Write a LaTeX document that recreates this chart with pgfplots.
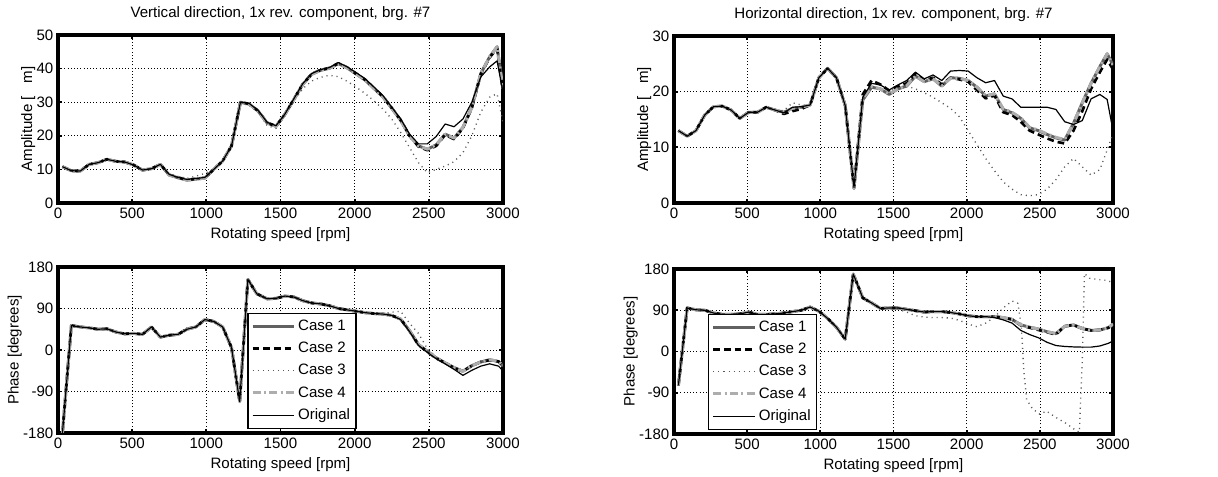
\documentclass[border=0pt]{standalone}
\usepackage{fontspec}
\setmainfont{Liberation Sans}
\usepackage{pgfplots}
\pgfplotsset{compat=1.18}
\usepackage{pgfplotstable}

\definecolor{cA}{gray}{0.38}
\definecolor{cC}{gray}{0.35}
\definecolor{cD}{gray}{0.68}

\pgfplotstableread{
x c1 c2 c3 c4 o
30 10.8 10.8 10.8 10.8 10.8
90 9.6 9.6 9.6 9.6 9.6
150 9.5 9.5 9.5 9.5 9.5
210 11.5 11.5 11.5 11.5 11.5
270 12.0 12.0 12.0 12.0 12.0
330 13.0 13.0 13.0 13.0 13.0
390 12.4 12.4 12.4 12.4 12.4
450 12.2 12.2 12.2 12.2 12.2
510 11.3 11.3 11.3 11.3 11.3
570 9.8 9.8 9.8 9.8 9.8
630 10.2 10.2 10.2 10.2 10.2
690 11.5 11.5 11.5 11.5 11.5
750 8.3 8.4 8.6 8.3 8.5
810 7.5 7.6 7.9 7.5 7.6
870 6.8 6.9 7.3 6.8 7.0
930 7.1 7.2 8.0 7.1 7.3
990 7.4 7.5 8.8 7.4 7.6
1050 10.0 10.0 10.2 10.0 10.0
1110 12.5 12.5 12.4 12.5 12.5
1170 17.0 17.0 16.8 17.0 17.0
1230 30.0 30.0 29.8 30.0 30.0
1290 29.4 29.5 29.0 29.4 29.6
1350 27.3 27.4 27.0 27.3 27.5
1410 23.8 23.9 23.0 23.8 24.0
1470 22.8 22.9 22.2 22.8 23.0
1530 26.4 26.4 26.0 26.4 26.5
1590 30.8 30.9 30.3 30.8 31.0
1650 35.3 35.4 34.0 35.3 35.5
1710 38.3 38.4 36.3 38.3 38.5
1770 39.5 39.6 37.4 39.5 39.7
1830 40.1 40.2 38.0 40.1 40.3
1890 41.5 41.6 37.6 41.5 41.8
1950 40.2 40.3 36.2 40.2 40.5
2010 38.4 38.5 34.5 38.4 38.8
2070 36.6 36.7 32.6 36.6 37.0
2130 34.1 34.2 30.4 34.1 34.5
2190 31.6 31.7 28.0 31.6 32.0
2250 28.2 28.3 25.0 28.2 28.5
2310 24.6 24.7 21.0 24.6 25.0
2370 20.0 20.0 16.5 20.0 20.5
2430 17.0 16.8 12.0 17.0 17.6
2490 16.0 15.7 9.0 16.0 17.6
2550 17.3 17.0 10.0 17.3 19.8
2610 20.5 20.3 11.0 20.5 23.5
2670 19.3 19.0 12.3 19.3 22.7
2730 22.5 22.3 15.0 22.5 25.0
2790 28.5 28.3 20.0 28.5 30.0
2850 38.5 38.3 27.0 38.5 37.5
2910 43.5 43.3 31.5 43.5 40.5
2960 46.5 46.0 32.5 46.5 42.3
3000 34.0 33.0 24.0 34.0 33.0
}\tabTL

\pgfplotstableread{
x c1 c2 c3 c4 o
30 13.0 13.0 13.0 13.0 13.0
90 12.0 12.0 12.0 12.0 12.0
150 13.0 13.0 13.0 13.0 13.0
210 15.8 15.8 15.8 15.8 15.8
270 17.3 17.3 17.3 17.3 17.3
330 17.4 17.4 17.4 17.4 17.4
390 16.7 16.7 16.7 16.7 16.7
450 15.2 15.2 15.2 15.2 15.2
510 16.3 16.3 16.3 16.3 16.3
570 16.3 16.3 16.3 16.3 16.3
630 17.2 17.2 17.2 17.2 17.2
690 16.7 16.7 16.7 16.7 16.7
750 16.3 16.0 16.6 16.3 16.2
810 17.0 16.5 18.0 17.0 17.2
870 17.2 16.9 17.6 17.2 17.3
930 17.6 17.6 17.6 17.6 17.6
990 22.5 22.5 22.5 22.5 22.5
1050 24.2 24.2 24.2 24.2 24.2
1110 22.5 22.5 22.5 22.5 22.5
1170 17.5 17.5 17.5 17.5 17.5
1230 2.6 2.8 2.8 2.6 2.8
1290 18.5 19.5 19.0 18.7 19.0
1350 20.8 22.0 21.0 20.9 21.5
1410 20.5 21.3 20.6 20.5 21.2
1470 19.5 20.2 20.0 19.6 20.3
1530 20.5 21.0 20.8 20.5 21.2
1590 21.0 21.5 21.0 21.1 22.0
1650 22.8 23.2 20.5 22.8 23.5
1710 21.8 22.0 19.8 21.8 22.3
1770 22.3 22.5 19.0 22.3 23.0
1830 21.0 21.3 18.0 21.0 22.0
1890 22.5 22.5 17.0 22.4 23.7
1950 22.4 22.2 15.5 22.4 23.8
2010 22.0 21.8 13.0 22.0 23.7
2070 20.8 20.3 10.5 20.8 22.5
2130 19.2 18.8 8.0 19.3 21.6
2190 19.6 19.3 5.8 19.6 22.0
2250 16.8 16.3 3.8 16.9 19.2
2310 16.2 15.8 2.5 16.3 18.7
2370 15.2 14.6 1.5 15.3 17.2
2430 13.5 13.0 1.3 13.6 17.2
2490 13.0 12.3 1.5 13.1 17.2
2550 12.3 11.6 2.5 12.4 17.2
2610 11.7 11.0 4.2 11.8 16.8
2670 11.3 10.7 6.5 11.4 14.6
2730 14.3 13.0 8.0 14.3 14.1
2790 18.0 16.5 6.5 18.0 14.8
2850 21.5 20.5 5.0 21.5 18.7
2910 24.5 23.5 6.0 24.5 19.5
2960 26.8 25.8 9.5 26.8 18.6
3000 24.8 24.0 12.5 24.8 13.0
}\tabTR

\pgfplotstableread{
x c1 c2 c3 c4 o
30 -180 -180 -180 -180 -180
90 53 53 53 53 53
150 50 50 50 50 50
210 48 48 48 48 48
270 45 45 45 45 45
330 46 46 46 46 46
390 39 39 39 39 39
450 35 35 35 35 35
510 36 36 36 36 36
570 34 34 34 34 34
630 50 50 50 50 50
690 28 28 28 28 28
750 32 32 32 32 32
810 34 34 35 34 34
870 45 46 48 45 45
930 50 50 52 50 50
990 66 66 63 66 66
1050 62 62 61 62 62
1110 50 50 49 50 50
1170 5 5 5 5 5
1225 -112 -112 -112 -112 -112
1280 153 153 153 153 153
1340 122 122 122 122 122
1410 111 111 111 111 111
1470 112 112 112 112 112
1530 117 117 117 117 117
1590 115 115 115 115 115
1650 107 107 107 107 107
1710 102 102 102 102 102
1770 100 100 100 100 100
1830 96 96 96 96 96
1890 90 90 90 90 90
1950 87 87 87 87 87
2010 84 84 84 84 84
2070 81 81 81 81 81
2130 79 79 79 79 79
2190 78 78 79 78 78
2250 75 75 82 75 75
2310 67 67 84 67 66
2370 42 41 58 42 40
2430 12 11 36 12 10
2490 -3 -4 3 -3 -5
2550 -17 -18 -15 -17 -19
2610 -28 -28 -27 -28 -30
2670 -38 -39 -38 -38 -42
2730 -46 -46 -46 -46 -55
2790 -34 -34 -34 -34 -44
2850 -26 -26 -26 -26 -35
2910 -21 -22 -21 -21 -30
2970 -25 -25 -25 -25 -35
3000 -35 -35 -35 -35 -45
}\tabBL

\pgfplotstableread{
x c1 c2 c4 o
30 -74 -74 -74 -74
90 95 95 95 95
150 91 91 91 91
210 90 90 90 90
270 84 84 84 84
330 81 81 81 81
390 81 81 81 81
450 82 82 82 82
510 86 86 86 86
570 81 81 81 81
630 81 81 81 81
690 82 82 82 82
750 84 84 84 84
810 87 87 87 87
870 90 90 90 90
930 97 97 97 97
990 88 88 88 88
1050 72 72 72 72
1110 53 53 53 53
1170 27 27 27 27
1225 169 169 169 169
1290 117 117 117 117
1350 106 106 106 106
1410 94 94 94 94
1470 95 95 95 95
1530 95 95 95 95
1590 92 92 92 92
1650 89 89 89 89
1710 86 86 86 86
1770 87 87 87 87
1830 87 87 87 87
1890 85 85 85 85
1950 82 82 82 82
2010 78 78 78 78
2070 76 76 76 76
2130 76 76 76 76
2190 76 76 76 74
2250 74 74 74 69
2310 70 70 70 62
2370 58 57 58 46
2430 53 52 53 37
2490 49 47 49 30
2550 43 42 43 20
2610 39 37 39 13
2670 55 55 55 11
2730 58 58 58 10
2790 50 50 50 9.5
2850 46 46 46 9.5
2910 47 47 47 12
2970 52 52 52 18
3000 60 60 60 23
}\tabBR

\pgfplotsset{
 myax/.style={
  scale only axis, xmin=0, xmax=3000,
  xtick={0,500,...,3000}, grid=major, no markers,
  axis line style={line width=2.3pt},
  major grid style={black, line width=0.5pt, dash pattern=on 0.8pt off 1.6pt},
  every tick/.style={black, line width=1.3pt}, major tick length=3pt,
  tick align=inside,
  /pgf/number format/assume math mode=true,
  /pgf/number format/1000 sep={},
  tick label style={font=\fontsize{11.3}{13}\selectfont},
  label style={font=\fontsize{11.3}{13}\selectfont},
  ylabel style={inner sep=0pt}, ylabel shift=-2.5pt,
  title style={font=\fontsize{11.3}{13}\selectfont, yshift=1.5pt},
  xlabel={Rotating speed [rpm]},
  legend cell align=left,
  legend image code/.code={\draw[#1] (0pt,0pt) -- (31pt,0pt);},
  legend style={draw=black, line width=1.1pt, fill=white,
    font=\fontsize{11.3}{13}\selectfont, row sep=3.2pt, inner xsep=2.5pt, inner ysep=3pt},
  every axis plot/.append style={line join=round},
 },
 case1/.style={color=cA, line width=2.2pt, solid},
 case2/.style={color=black, line width=2pt, dash pattern=on 5pt off 3pt},
 case3/.style={color=cC, line width=1pt, dash pattern=on 0.8pt off 3pt},
 case4/.style={color=cD, line width=2.2pt, dash pattern=on 6pt off 2.5pt on 1.5pt off 2.5pt},
 orig/.style={color=black, line width=0.9pt, solid},
 amp/.style={ylabel={Amplitude [\hspace{0.85em}m]}},
 phase/.style={ymin=-180, ymax=180, ytick={-180,-90,0,90,180},
   yticklabels={-180,-90,0,90,180}, ylabel={Phase [degrees]}},
}

\begin{document}
\begin{tikzpicture}
\useasboundingbox (0,0) rectangle (913.5pt,357.75pt);

\begin{axis}[myax, amp, at={(43.5pt,205.5pt)}, anchor=south west,
  width=333.75pt, height=126pt, ymin=0, ymax=50, ytick={0,10,...,50},
  title={Vertical direction, 1x rev. component, brg. \#7}]
\addplot[case1] table[x=x,y=c1] {\tabTL};
\addplot[case2] table[x=x,y=c2] {\tabTL};
\addplot[case3] table[x=x,y=c3] {\tabTL};
\addplot[case4] table[x=x,y=c4] {\tabTL};
\addplot[orig] table[x=x,y=o] {\tabTL};
\end{axis}

\begin{axis}[myax, amp, at={(505.5pt,205.5pt)}, anchor=south west,
  width=329.25pt, height=125.25pt, ymin=0, ymax=30, ytick={0,10,20,30},
  title={Horizontal direction, 1x rev. component, brg. \#7}]
\addplot[case1] table[x=x,y=c1] {\tabTR};
\addplot[case2] table[x=x,y=c2] {\tabTR};
\addplot[case3] table[x=x,y=c3] {\tabTR};
\addplot[case4] table[x=x,y=c4] {\tabTR};
\addplot[orig] table[x=x,y=o] {\tabTR};
\end{axis}

\begin{axis}[myax, phase, at={(43.5pt,33pt)}, anchor=south west,
  width=333.75pt, height=124.5pt,
  legend style={at={(0.425,0.024)}, anchor=south west}]
\addplot[case1] table[x=x,y=c1] {\tabBL};
\addplot[case2] table[x=x,y=c2] {\tabBL};
\addplot[case3] table[x=x,y=c3] {\tabBL};
\addplot[case4] table[x=x,y=c4] {\tabBL};
\addplot[orig] table[x=x,y=o] {\tabBL};
\legend{Case 1,Case 2,Case 3,Case 4,Original}
\end{axis}

\begin{axis}[myax, phase, at={(505.5pt,32.25pt)}, anchor=south west,
  width=329.25pt, height=123.75pt,
  legend style={at={(0.077,0.024)}, anchor=south west}]
\addplot[case1] table[x=x,y=c1] {\tabBR};
\addplot[case2] table[x=x,y=c2] {\tabBR};
\addplot[case3] coordinates {
(30,-74) (90,95) (150,91) (210,90) (270,84) (330,81) (390,81) (450,82)
(510,86) (570,81) (630,81) (690,82) (750,84) (810,87) (870,90) (930,97)
(990,88) (1050,72) (1110,53) (1170,27) (1225,169) (1290,117) (1350,106)
(1410,94) (1470,93) (1530,92) (1590,86) (1650,78) (1710,75) (1770,74)
(1830,74) (1890,73) (1950,68) (2010,60) (2070,54) (2130,62) (2190,75)
(2250,95) (2310,110) (2350,105) (2375,50) (2390,-40) (2410,-105)
(2450,-125) (2500,-137) (2545,-130) (2610,-144) (2680,-157) (2750,-173)
(2770,-176) (2790,-20) (2805,170) (2840,160) (2900,157) (2960,155) (3000,150)
};
\addplot[case4] table[x=x,y=c4] {\tabBR};
\addplot[orig] table[x=x,y=o] {\tabBR};
\legend{Case 1,Case 2,Case 3,Case 4,Original}
\end{axis}
\end{tikzpicture}
\end{document}
